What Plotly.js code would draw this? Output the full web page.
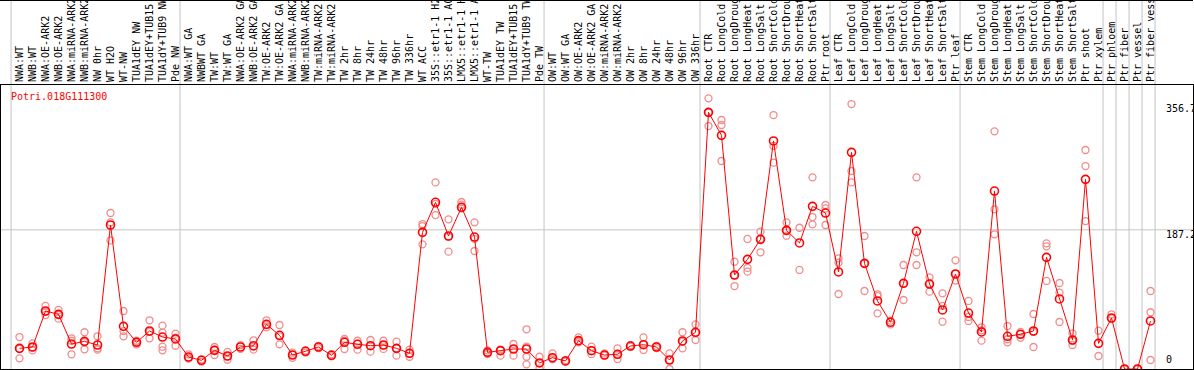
<!DOCTYPE html>
<html>
<head>
<meta charset="utf-8">
<script src="https://cdn.plot.ly/plotly-3.0.1.min.js"></script>
<style>
html,body{margin:0;padding:0;background:#fff;}
#chart{width:1194px;height:370px;}
</style>
</head>
<body>
<div id="chart"></div>
<script>
const geneTitle = "Potri.018G111300";

const labels = [
  "NWA:WT","NWB:WT","NWA:OE-ARK2","NWB:OE-ARK2","NWA:miRNA-ARK2","NWB:miRNA-ARK2","NW 0hr","WT H2O","WT-NW","TUA1dEY NW","TUA1dEY+TUB15 NW","TUA1dY+TUB9 NW","Pde NW",
  "NWA:WT GA","NWBWT GA","TW:WT","TW:WT GA","NWA:OE-ARK2 GA","NWB:OE-ARK2 GA","TW:OE-ARK2","TW:OE-ARK2 GA","NWA:miRNA-ARK2","NWB:miRNA-ARK2","TW:miRNA-ARK2","TW:miRNA-ARK2 GA","TW 2hr","TW 8hr","TW 24hr","TW 48hr","TW 96hr","TW 336hr","WT ACC","35S::etr1-1 H2O","35S::etr1-1 ACC","LMX5::etr1-1 H2O","LMX5::etr1-1 ACC","WT-TW","TUA1dEY TW","TUA1dEY+TUB15 TW","TUA1dY+TUB9 TW","Pde TW",
  "OW:WT","OW:WT GA","OW:OE-ARK2","OW:OE-ARK2 GA","OW:miRNA-ARK2","OW:miRNA-ARK2 GA","OW 2hr","OW 8hr","OW 24hr","OW 48hr","OW 96hr","OW 336hr",
  "Root CTR","Root LongCold","Root LongDrought","Root LongHeat","Root LongSalt","Root ShortCold","Root ShortDrought","Root ShortHeat","Root ShortSalt","Ptr root",
  "Leaf CTR","Leaf LongCold","Leaf LongDrought","Leaf LongHeat","Leaf LongSalt","Leaf ShortCold","Leaf ShortDrought","Leaf ShortHeat","Leaf ShortSalt","Ptr leaf",
  "Stem CTR","Stem LongCold","Stem LongDrought","Stem LongHeat","Stem LongSalt","Stem ShortCold","Stem ShortDrought","Stem ShortHeat","Stem ShortSalt","Ptr shoot","Ptr xylem",
  "Ptr phloem","Ptr fiber","Ptr vessel","Ptr fiber vessel"
];

// number of categories in each separated group
const groupSizes = [13, 28, 12, 10, 10, 11, 1, 1, 1, 1];

const meanValues = [
  27.8, 29.6, 78, 73.5, 33.6, 37.2, 32.3, 193.7, 57.4, 35.9, 51.1, 43, 40.4,
  16.1, 11.7, 25.1, 17.5, 29.6, 31.3, 60.1, 45.3, 18.8, 23.8, 29.6, 18.4, 35.9, 33.2, 31.3, 32.3, 27.8, 21.1, 183.8, 224.2, 178.9, 217.5, 177.5, 22.4, 24.6, 26.9, 26.9, 8.1,
  15.2, 10.8, 38.1, 24.6, 18.8, 19.8, 30.9, 32.7, 29.6, 12.1, 37.7, 49.4,
  345.2, 314.3, 126.4, 147.5, 174.4, 306.7, 186.5, 169.5, 218.8, 209.8,
  130.5, 291.4, 142.1, 91.5, 62.8, 115.3, 185.2, 114.3, 79.4, 127.8,
  75.3, 49.8, 239.4, 44, 46.7, 51.1, 150.2, 94.2, 39, 255.1, 34.5,
  68.6, 0, 0, 64.6
];

const replicateValues = [
  [43, 14.3, 27], [34.5, 29, 25], [85, 72.6, 77], [79.4, 67.7, 73], [41.3, 38, 19.8], [49.4, 26.5, 36], [44, 27.8, 26], [209.8, 197.3, 173], [78, 44, 51], [33, 38, 36], [65.5, 41.3, 50], [58.3, 49, 30, 25.1], [47.5, 31.3, 42],
  [19.8, 13.9, 15], [13, 10], [29.6, 18.8, 26], [22.9, 12.5, 17], [27, 32], [38.6, 26, 30], [65.5, 56, 59], [59.2, 33.2, 44], [22, 15, 19], [25, 22], [31, 28], [20, 17], [40.4, 26.9, 38], [38, 26, 34], [39, 23.3, 31], [38, 27, 32], [36.7, 17.9, 28], [26, 16.5, 21], [195, 192.3, 167.7], [251, 207, 222], [201.3, 157.8, 178], [224.6, 221, 216], [197.3, 158.7, 175], [25, 20, 22], [26.5, 17.9, 25], [33.6, 17.9, 27], [53.4, 30, 16.5, 6.3], [16.5, 0.9, 8],
  [21.1, 13, 15], [12, 10], [42.6, 36, 38], [30, 20, 25], [21, 18], [27.8, 13.4, 19], [32, 30], [42.6, 25.6, 33], [31, 28], [21.1, 0, 12], [49.4, 27.8, 37], [60.1, 39, 49],
  [364.1, 326.8, 345], [334.9, 328.2, 279.8], [144.3, 111.6, 126], [174.9, 136, 130.9], [184.7, 157, 175], [341.6, 300, 277.5], [197.3, 179.3, 186], [190, 133.2], [257.8, 204.4, 194.6], [220.6, 193.7, 216],
  [148.9, 143, 100.9], [356.4, 266.3, 251], [178.9, 104.9, 142], [100.5, 74.9, 98], [65, 60], [139.9, 92.8, 115], [257.8, 157, 139.9], [123.3, 104, 115], [101.8, 85, 63.6], [146.2, 119, 128],
  [91.5, 64.6, 70], [56.1, 38.1, 52], [319.7, 214.8, 181.2], [57.8, 35.9, 40], [50, 42.1, 47], [74, 29.6, 50], [169, 165, 118.4], [115.7, 102.7, 63.2], [48, 32.3, 38], [294.6, 273, 199], [51.5, 17.5],
  [73.6, 68], [0, 0], [0, 0], [104.9, 76.3, 12.1]
];

const yTickValues = [0, 187.2, 356.7];
const yTickTexts = ["0", "187.2", "356.7"];

// ---- build traces ----
const xIdx = labels.map((_, i) => i);
const repX = [], repY = [];
replicateValues.forEach((arr, i) => arr.forEach(v => { repX.push(i); repY.push(v); }));

const W = 1194, H = 370;
const mL = 1, mR = 1, mT = 85, mB = 1;
const plotW = W - mL - mR, plotH = H - mT - mB;
const pxPerCat = 13, firstPx = 19.5;
const xr0 = -(firstPx - mL) / pxPerCat;
const xr1 = xr0 + plotW / pxPerCat;
const yMax = 382;

const traces = [
  {
    x: repX, y: repY, type: 'scatter', mode: 'markers', hoverinfo: 'skip',
    marker: {symbol: 'circle-open', size: 7, color: 'rgb(240,140,140)', line: {width: 1.3, color: 'rgb(240,140,140)'}}
  },
  {
    x: xIdx, y: meanValues, type: 'scatter', mode: 'lines+markers',
    line: {color: '#ff0000', width: 1},
    marker: {symbol: 'circle-open', size: 8, color: '#ff0000', line: {width: 1.6, color: '#ff0000'}}
  }
];

const shapes = [];
const topPaper = (H - mB - 0.5) / plotH; // top edge of page in paper units
// group separators
let cum = 0;
const seps = [0];
groupSizes.forEach(n => { cum += n; seps.push(cum); });
seps.forEach(c => {
  shapes.push({type: 'line', xref: 'x', yref: 'paper', x0: c - 0.65, x1: c - 0.65, y0: 0, y1: topPaper,
    line: {color: '#c4c4c4', width: 1}, layer: 'below'});
});
// horizontal grid at middle tick
shapes.push({type: 'line', xref: 'paper', yref: 'y', x0: 0, x1: 1, y0: yTickValues[1], y1: yTickValues[1],
  line: {color: '#c4c4c4', width: 1}, layer: 'below'});
// page top border
shapes.push({type: 'line', xref: 'paper', yref: 'paper', x0: -mL / plotW, x1: 1, y0: topPaper, y1: topPaper,
  line: {color: '#000', width: 1}});

const monoFont = {family: 'DejaVu Sans Mono, monospace', size: 10, color: '#000'};
const labelX = (1164 - mL) / plotW;
const annotations = [
  {xref: 'paper', yref: 'paper', x: (9 - mL) / plotW, y: 1, xanchor: 'left', yanchor: 'top', yshift: -4,
   text: geneTitle, showarrow: false, font: {family: 'DejaVu Sans Mono, monospace', size: 10, color: '#ff0000'}}
];
yTickValues.forEach((v, k) => {
  annotations.push({xref: 'paper', yref: 'y', x: labelX, y: v, xanchor: 'left',
    yanchor: k === 0 ? 'bottom' : 'top', yshift: k === 0 ? 2 : 3, text: yTickTexts[k], showarrow: false, font: monoFont});
});

const layout = {
  width: W, height: H,
  margin: {l: mL, r: mR, t: mT, b: mB, pad: 0},
  paper_bgcolor: '#fff', plot_bgcolor: '#fff',
  showlegend: false,
  xaxis: {
    side: 'top', range: [xr0, xr1], tickmode: 'array', tickvals: xIdx, ticktext: labels,
    tickangle: -90, tickfont: monoFont, ticks: '', showgrid: false, zeroline: false,
    showline: true, mirror: true, linecolor: '#000', linewidth: 1, automargin: false, fixedrange: true
  },
  yaxis: {
    side: 'right', range: [0, yMax], showticklabels: false, ticks: '', showgrid: false, zeroline: false,
    showline: true, mirror: true, linecolor: '#000', linewidth: 1, automargin: false, fixedrange: true
  },
  shapes: shapes,
  annotations: annotations
};

Plotly.newPlot('chart', traces, layout, {staticPlot: true, displayModeBar: false});
</script>
</body>
</html>
